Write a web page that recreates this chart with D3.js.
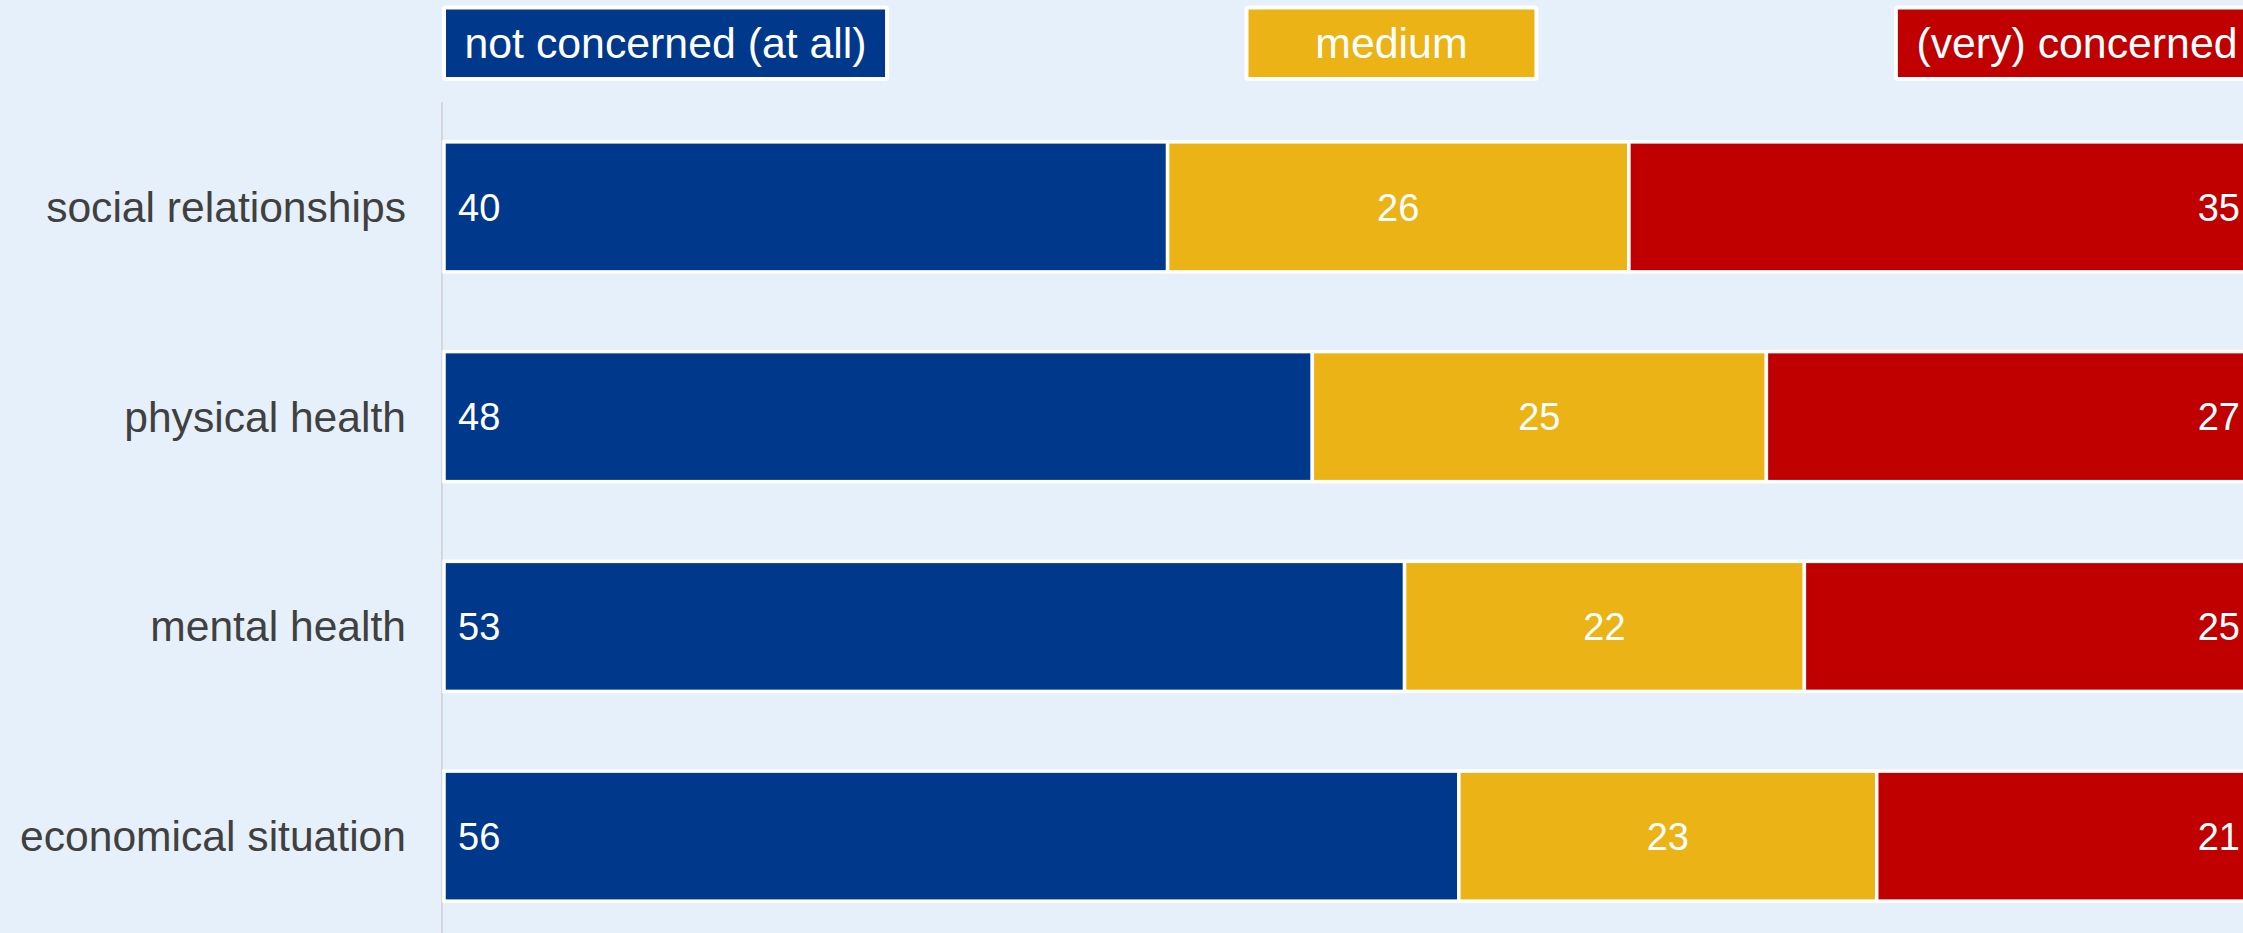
<!DOCTYPE html>
<html>
<head>
<meta charset="utf-8">
<script src="https://cdn.jsdelivr.net/npm/d3@7"></script>
<style>
  html, body { margin: 0; padding: 0; background: #e6f0fa; }
  svg { display: block; font-family: "Liberation Sans", Arial, Helvetica, sans-serif; }
</style>
</head>
<body>
<svg id="chart" width="2243" height="933"></svg>
<script>
// ---- data ----
const categories = ["social relationships", "physical health", "mental health", "economical situation"];
const seriesNames = ["not concerned (at all)", "medium", "(very) concerned"];
const notConcerned = [40.0, 48.0, 53.1, 56.1];
const medium       = [25.5, 25.1, 22.1, 23.1];
const concerned    = [34.5, 26.9, 24.8, 20.8];
const seriesColors = ["#00388c", "#ebb315", "#c00000"];

// ---- layout ----
const W = 2243, H = 933;
const svg = d3.select("#chart");
svg.append("rect").attr("width", W).attr("height", H).attr("fill", "#e6f0fa");

const x = d3.scaleLinear().domain([0, 100]).range([444, 2253]);
const y = d3.scaleBand().domain(categories).range([102, 941]).paddingInner(0.38).paddingOuter(0.19);

const seriesData = [notConcerned, medium, concerned];
const rows = categories.map((c, i) => {
  const obj = { cat: c };
  seriesNames.forEach((s, j) => obj[s] = seriesData[j][i]);
  return obj;
});
const stack = d3.stack().keys(seriesNames)(rows);

// axis line
svg.append("line")
  .attr("x1", x(0) - 2).attr("x2", x(0) - 2)
  .attr("y1", 102).attr("y2", H)
  .attr("stroke", "#d4d8dc").attr("stroke-width", 2);

// category labels
const yAxis = d3.axisLeft(y).tickSize(0).tickPadding(0);
const ga = svg.append("g").attr("transform", `translate(${406},0)`).call(yAxis);
ga.select(".domain").remove();
ga.selectAll("text")
  .attr("fill", "#404040")
  .attr("font-size", 42.6)
  .attr("font-family", '"Liberation Sans", Arial, sans-serif')
  .attr("dy", "0.35em");

// bars
const layers = svg.selectAll("g.layer").data(stack).join("g")
  .attr("class", "layer").attr("fill", (d, i) => seriesColors[i]);
layers.selectAll("rect").data(d => d).join("rect")
  .attr("x", d => x(d[0]))
  .attr("width", d => x(d[1]) - x(d[0]))
  .attr("y", d => y(d.data.cat))
  .attr("height", y.bandwidth())
  .attr("stroke", "#ffffff").attr("stroke-width", 3.5);

// value labels
stack.forEach((layer, i) => {
  svg.append("g").selectAll("text").data(layer).join("text")
    .attr("x", d => i === 0 ? x(d[0]) + 14 : i === 1 ? (x(d[0]) + x(d[1])) / 2 : x(d[1]) - 13)
    .attr("y", d => y(d.data.cat) + y.bandwidth() / 2)
    .attr("dy", "0.36em")
    .attr("text-anchor", i === 0 ? "start" : i === 1 ? "middle" : "end")
    .attr("fill", "#ffffff")
    .attr("font-size", 38)
    .text(d => Math.round(d[1] - d[0]));
});

// legend
const legL = 444, legR = 2258, legTop = 7.5, legH = 71.5, pad = 20.5, minW = 290;
const lg = svg.append("g");
const items = seriesNames.map((s, i) => {
  const t = lg.append("text").attr("font-size", 42.8).attr("fill", "#fff")
    .attr("text-anchor", "middle").attr("dy", "0.35em").text(s);
  const tw = t.node().getComputedTextLength();
  return { t, w: Math.max(tw + 2 * pad, minW), color: seriesColors[i] };
});
const totalW = d3.sum(items, d => d.w);
const gap = (legR - legL - totalW) / (items.length - 1);
let cx = legL;
items.forEach(it => {
  lg.insert("rect", "text")
    .attr("x", cx).attr("y", legTop).attr("width", it.w).attr("height", legH)
    .attr("rx", 2).attr("fill", it.color).attr("stroke", "#fff").attr("stroke-width", 4);
  it.t.attr("x", cx + it.w / 2).attr("y", legTop + legH / 2);
  cx += it.w + gap;
});
</script>
</body>
</html>
